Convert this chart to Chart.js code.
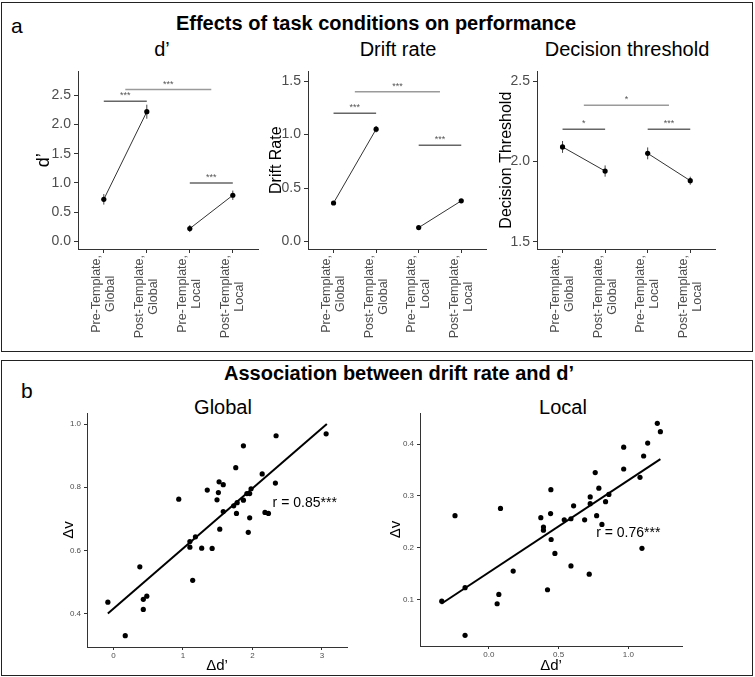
<!DOCTYPE html>
<html>
<head>
<meta charset="utf-8">
<script src="https://cdn.jsdelivr.net/npm/chart.js@4.4.0/dist/chart.umd.min.js"></script>
<style>
  body { margin: 0; width: 755px; height: 677px; position: relative; background: #fff; overflow: hidden;
         font-family: "Liberation Sans", Arial, sans-serif; }
  .panel { position: absolute; border: 1.5px solid #222; box-sizing: border-box; }
  .txt { position: absolute; white-space: nowrap; color: #000; line-height: 1; }
  .c { transform: translateX(-50%); }
  canvas { position: absolute; }
</style>
</head>
<body>
<div class="panel" style="left:1px; top:2px; width:752px; height:350px;"></div>
<div class="panel" style="left:1px; top:360px; width:752px; height:316px;"></div>

<div class="txt" style="left:11px; top:15px; font-size:21px;">a</div>
<div class="txt c" style="left:376px; top:13px; font-size:20px; font-weight:bold;">Effects of task conditions on performance</div>
<div class="txt c" style="left:162px; top:39px; font-size:20px;">d’</div>
<div class="txt c" style="left:398px; top:39px; font-size:20px;">Drift rate</div>
<div class="txt c" style="left:627px; top:39px; font-size:20px;">Decision threshold</div>

<div class="txt" style="left:21px; top:380px; font-size:21px;">b</div>
<div class="txt c" style="left:399px; top:363px; font-size:20px; font-weight:bold;">Association between drift rate and d’</div>
<div class="txt c" style="left:223px; top:397px; font-size:20px;">Global</div>
<div class="txt c" style="left:563px; top:397px; font-size:20px;">Local</div>

<canvas id="dprimeChart" width="240" height="288" style="left:28px; top:60px;"></canvas>
<canvas id="driftChart" width="240" height="288" style="left:258px; top:60px;"></canvas>
<canvas id="thresholdChart" width="240" height="288" style="left:487px; top:60px;"></canvas>
<canvas id="globalChart" width="320" height="270" style="left:40px; top:405px;"></canvas>
<canvas id="localChart" width="320" height="270" style="left:375px; top:405px;"></canvas>

<script>
// panel a: condition means (pre/post template, global/local)
const categories = [['Pre-Template,', 'Global'], ['Post-Template,', 'Global'], ['Pre-Template,', 'Local'], ['Post-Template,', 'Local']];

const dprime = [0.72, 2.22, 0.22, 0.79];
const dprimeErr = [0.09, 0.12, 0.06, 0.08];
const dprimeTicks = [0, 0.5, 1, 1.5, 2, 2.5];
const dprimeSig = [[1, 2, 2.4, '***'], [1.5, 3.5, 2.6, '***'], [3, 4, 1.0, '***']];

const driftRate = [0.36, 1.05, 0.13, 0.38];
const driftErr = [0.01, 0.03, 0.01, 0.012];
const driftTicks = [0, 0.5, 1, 1.5];
const driftSig = [[1, 2, 1.2, '***'], [1.5, 3.5, 1.4, '***'], [3, 4, 0.9, '***']];

const threshold = [2.09, 1.94, 2.05, 1.88];
const thresholdErr = [0.037, 0.035, 0.037, 0.025];
const thresholdTicks = [1.5, 2, 2.5];
const thresholdSig = [[1, 2, 2.2, '*'], [1.5, 3.5, 2.35, '*'], [3, 4, 2.2, '***']];

// panel b: per-subject change in d' vs change in drift rate
const globalX = [-0.08, 0.17, 0.38, 0.43, 0.43, 0.48, 0.94, 1.10, 1.10, 1.14, 1.18, 1.27, 1.35, 1.42, 1.49, 1.51,
                 1.52, 1.53, 1.58, 1.58, 1.73, 1.76, 1.77, 1.78, 1.87, 1.87, 1.92, 1.94, 1.96, 1.96, 1.98, 2.14,
                 2.18, 2.23, 2.33, 2.34, 3.06];
const globalY = [0.436, 0.330, 0.548, 0.445, 0.413, 0.455, 0.762, 0.628, 0.610, 0.505, 0.643, 0.607, 0.791, 0.606, 0.760, 0.783,
                 0.817, 0.667, 0.808, 0.723, 0.741, 0.862, 0.717, 0.751, 0.931, 0.759, 0.780, 0.657, 0.780, 0.703, 0.795, 0.842,
                 0.720, 0.717, 0.813, 0.963, 0.969];
const globalFitX = [-0.08, 3.07];
const globalFitY = [0.40, 1.00];

const localX = [-0.337, -0.242, -0.170, -0.170, 0.060, 0.072, 0.084, 0.175, 0.373, 0.392, 0.392, 0.421, 0.443, 0.445,
                0.447, 0.474, 0.541, 0.589, 0.589, 0.608, 0.687, 0.720, 0.727, 0.727, 0.763, 0.773, 0.789, 0.811,
                0.837, 0.861, 0.967, 0.967, 1.084, 1.098, 1.110, 1.139, 1.208, 1.230];
const localY = [0.097, 0.262, 0.123, 0.031, 0.092, 0.110, 0.276, 0.155, 0.258, 0.240, 0.234, 0.119, 0.266, 0.312,
                0.216, 0.189, 0.254, 0.256, 0.165, 0.281, 0.254, 0.149, 0.298, 0.285, 0.345, 0.262, 0.315, 0.245,
                0.289, 0.303, 0.394, 0.352, 0.336, 0.199, 0.377, 0.402, 0.440, 0.424];
const localFitX = [-0.34, 1.23];
const localFitY = [0.092, 0.371];

Chart.defaults.font.family = '"Liberation Sans", Arial, sans-serif';
Chart.defaults.animation = false;

const axisColor = '#333';
const tickColor = '#4d4d4d';

// vertical error bars, drawn under the points
const errorBars = {
    id: 'errorBars',
    beforeDatasetsDraw(chart) {
        const ctx = chart.ctx, ys = chart.scales.y;
        ctx.save();
        ctx.strokeStyle = '#444';
        ctx.lineWidth = 1;
        chart.data.datasets.forEach((ds, i) => {
            chart.getDatasetMeta(i).data.forEach((pt, j) => {
                const v = ds.data[j].y, e = ds.err[j];
                ctx.beginPath();
                ctx.moveTo(pt.x, ys.getPixelForValue(v - e));
                ctx.lineTo(pt.x, ys.getPixelForValue(v + e));
                ctx.stroke();
            });
        });
        ctx.restore();
    }
};

// significance brackets with stars
const sigBars = {
    id: 'sigBars',
    afterDraw(chart, args, opts) {
        const ctx = chart.ctx, xs = chart.scales.x, ys = chart.scales.y;
        ctx.save();
        ctx.font = '9px "Liberation Sans"';
        ctx.textAlign = 'center';
        ctx.textBaseline = 'alphabetic';
        opts.bars.forEach(([x1, x2, y, label]) => {
            const wide = x2 - x1 > 1;
            const py = ys.getPixelForValue(y);
            ctx.strokeStyle = wide ? '#9a9a9a' : '#666';
            ctx.lineWidth = 1.5;
            ctx.beginPath();
            ctx.moveTo(xs.getPixelForValue(x1), py);
            ctx.lineTo(xs.getPixelForValue(x2), py);
            ctx.stroke();
            ctx.fillStyle = '#555';
            ctx.fillText(label, xs.getPixelForValue((x1 + x2) / 2), py - 3);
        });
        ctx.restore();
    }
};

// rotated two-line category labels, lines centred on each other
const catLabels = {
    id: 'catLabels',
    afterDraw(chart) {
        const ctx = chart.ctx, xs = chart.scales.x;
        ctx.save();
        ctx.font = '12.5px "Liberation Sans"';
        ctx.fillStyle = tickColor;
        ctx.textAlign = 'center';
        ctx.textBaseline = 'middle';
        categories.forEach((lines, i) => {
            const w = Math.max(...lines.map(l => ctx.measureText(l).width));
            ctx.save();
            ctx.translate(xs.getPixelForValue(i + 1), xs.top + 6 + w / 2);
            ctx.rotate(-Math.PI / 2);
            lines.forEach((l, j) => ctx.fillText(l, 0, (j - (lines.length - 1) / 2) * 14));
            ctx.restore();
        });
        ctx.restore();
    }
};

// r value label placed in data coordinates
const rLabel = {
    id: 'rLabel',
    afterDraw(chart, args, opts) {
        const ctx = chart.ctx;
        ctx.save();
        ctx.font = '14px "Liberation Sans"';
        ctx.fillStyle = '#000';
        ctx.textAlign = 'left';
        ctx.textBaseline = 'middle';
        ctx.fillText(opts.text, chart.scales.x.getPixelForValue(opts.x), chart.scales.y.getPixelForValue(opts.y));
        ctx.restore();
    }
};

function axisGrid(len) {
    return { display: true, drawOnChartArea: false, drawTicks: true, tickLength: len, color: axisColor };
}

function pairChart(id, values, errors, yTicks, yMin, yMax, yTitle, titleSize, titlePad, sig, padRight) {
    const pts = values.map((v, i) => ({ x: i + 1, y: v }));
    return new Chart(document.getElementById(id), {
        type: 'line',
        data: {
            datasets: [
                { data: pts.slice(0, 2), err: errors.slice(0, 2) },
                { data: pts.slice(2, 4), err: errors.slice(2, 4) }
            ].map(ds => Object.assign(ds, {
                borderColor: '#333', borderWidth: 1,
                pointRadius: 2.6, pointBackgroundColor: '#000', pointBorderColor: '#000', pointBorderWidth: 0
            }))
        },
        options: {
            responsive: false,
            layout: { padding: { top: 3, right: padRight, left: 0, bottom: 0 } },
            plugins: { legend: { display: false }, tooltip: { enabled: false }, sigBars: { bars: sig } },
            scales: {
                x: {
                    type: 'linear', min: 0.4, max: 4.6,
                    afterBuildTicks: s => { s.ticks = categories.map((c, i) => ({ value: i + 1 })); },
                    ticks: { callback: () => '' },
                    grid: axisGrid(4),
                    border: { display: true, color: axisColor, width: 1 },
                    afterFit: s => { s.height = 99; }
                },
                y: {
                    min: yMin, max: yMax,
                    afterBuildTicks: s => { s.ticks = yTicks.map(v => ({ value: v })); },
                    ticks: { callback: v => v.toFixed(1), color: tickColor, font: { size: 14 }, padding: 3 },
                    grid: axisGrid(4),
                    border: { display: true, color: axisColor, width: 1 },
                    title: { display: true, text: yTitle, color: '#000', font: { size: titleSize },
                             padding: { top: titlePad, bottom: 0 } },
                    afterFit: s => { s.width = 50; }
                }
            }
        },
        plugins: [errorBars, sigBars, catLabels]
    });
}

pairChart('dprimeChart', dprime, dprimeErr, dprimeTicks, -0.13, 2.91, 'd’', 18, 5, dprimeSig, 9.4);
pairChart('driftChart', driftRate, driftErr, driftTicks, -0.07, 1.59, 'Drift Rate', 16, 9, driftSig, 11.2);
pairChart('thresholdChart', threshold, thresholdErr, thresholdTicks, 1.455, 2.56, 'Decision Threshold', 16, 10, thresholdSig, 11.2);

function scatterChart(id, xs, ys, fitX, fitY, cfg) {
    return new Chart(document.getElementById(id), {
        type: 'scatter',
        data: {
            datasets: [
                {
                    data: fitX.map((x, i) => ({ x: x, y: fitY[i] })),
                    showLine: true, borderColor: '#000', borderWidth: 2, pointRadius: 0, order: 0
                },
                {
                    data: xs.map((x, i) => ({ x: x, y: ys[i] })),
                    pointRadius: 2.6, pointBackgroundColor: '#000', pointBorderWidth: 0, order: 1
                }
            ]
        },
        options: {
            responsive: false,
            layout: { padding: { top: 8, right: cfg.padRight, left: 0, bottom: 0 } },
            plugins: { legend: { display: false }, tooltip: { enabled: false }, rLabel: cfg.r },
            scales: {
                x: {
                    type: 'linear', min: cfg.xMin, max: cfg.xMax,
                    afterBuildTicks: s => { s.ticks = cfg.xTicks.map(v => ({ value: v })); },
                    ticks: { callback: v => v.toFixed(cfg.xDigits), color: tickColor, font: { size: 8 }, padding: 1 },
                    grid: axisGrid(3),
                    border: { display: true, color: axisColor, width: 1 },
                    title: { display: true, text: 'Δd’', color: '#000', font: { size: 15 }, padding: 0 },
                    afterFit: s => { s.height = cfg.xHeight; }
                },
                y: {
                    min: cfg.yMin, max: cfg.yMax,
                    afterBuildTicks: s => { s.ticks = cfg.yTicks.map(v => ({ value: v })); },
                    ticks: { callback: v => v.toFixed(1), color: tickColor, font: { size: 8 }, padding: 3 },
                    grid: axisGrid(3),
                    border: { display: true, color: axisColor, width: 1 },
                    title: { display: true, text: 'Δv', color: '#000', font: { size: 15 },
                             padding: { top: cfg.titlePad, bottom: 0 } },
                    afterFit: s => { s.width = cfg.yWidth; }
                }
            }
        },
        plugins: [rLabel]
    });
}

scatterChart('globalChart', globalX, globalY, globalFitX, globalFitY, {
    xMin: -0.38, xMax: 3.36, yMin: 0.294, yMax: 1.035,
    xTicks: [0, 1, 2, 3], yTicks: [0.4, 0.6, 0.8, 1.0], xDigits: 0,
    xHeight: 28, yWidth: 47, padRight: 13, titlePad: 20,
    r: { x: 2.29, y: 0.749, text: 'r = 0.85***' }
});

scatterChart('localChart', localX, localY, localFitX, localFitY, {
    xMin: -0.493, xMax: 1.385, yMin: 0.0105, yMax: 0.46,
    xTicks: [0, 0.5, 1.0], yTicks: [0.1, 0.2, 0.3, 0.4], xDigits: 1,
    xHeight: 29, yWidth: 45, padRight: 13, titlePad: 12,
    r: { x: 0.77, y: 0.229, text: 'r = 0.76***' }
});
</script>
</body>
</html>
